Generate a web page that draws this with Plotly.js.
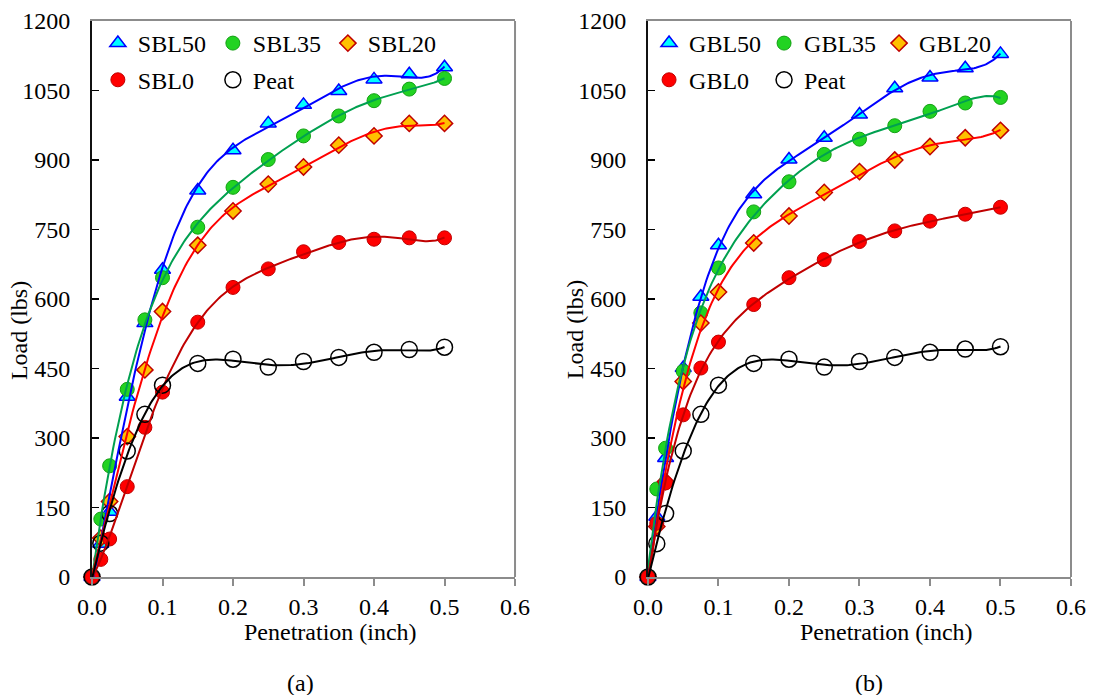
<!DOCTYPE html>
<html><head><meta charset="utf-8">
<script src="https://cdn.plot.ly/plotly-3.0.1.min.js"></script>
<style>html,body{margin:0;padding:0;background:#fff}#chart{width:1094px;height:695px}</style>
</head><body><div id="chart"></div>
<script>
// ---- data ----
const penetration = [0, 0.0125, 0.025, 0.05, 0.075, 0.1, 0.15, 0.2, 0.25, 0.3, 0.35, 0.4, 0.45, 0.5];
const xTickVals = [0, 0.1, 0.2, 0.3, 0.4, 0.5, 0.6];
const yTickVals = [0, 150, 300, 450, 600, 750, 900, 1050, 1200];
const xTitle = 'Penetration (inch)';
const yTitle = 'Load (lbs)';
const panelLabels = ['(a)', '(b)'];

// panel (a)
const namesA = ["SBL50", "SBL35", "SBL20", "SBL0", "Peat"];
const sbl50 = [0, 72, 141, 389, 548, 663, 834, 921, 979, 1019, 1049, 1074, 1085, 1100];
const sbl35 = [0, 125, 240, 405, 555, 646, 755, 841, 901, 952, 995, 1028, 1053, 1076];
const sbl20 = [0, 84, 163, 303, 447, 573, 716, 790, 848, 885, 932, 952, 979, 979];
const sbl0  = [0, 38, 82, 195, 323, 399, 550, 625, 665, 702, 722, 729, 732, 732];
const peatA = [0, 73, 137, 272, 351, 414, 461, 470, 453, 465, 474, 485, 491, 496];

// panel (b)
const namesB = ["GBL50", "GBL35", "GBL20", "GBL0", "Peat"];
const gbl50 = [0, 130, 257, 451, 605, 716, 826, 901, 948, 998, 1055, 1078, 1098, 1129];
const gbl35 = [0, 190, 278, 444, 570, 667, 788, 853, 912, 945, 974, 1005, 1023, 1035];
const gbl20 = [0, 109, 206, 422, 548, 615, 721, 779, 830, 875, 900, 929, 948, 964];
const gbl0  = [0, 116, 203, 350, 451, 507, 588, 646, 685, 724, 747, 768, 783, 798];
const peatB = [0, 72, 137, 272, 351, 414, 461, 470, 453, 465, 474, 485, 492, 497];

// ---- styles ----
const FONT = 'Liberation Serif, Times New Roman, serif';
const FS = 24;
const markerStyles = [
  {symbol: 'triangle-up', size: 14, color: '#00FFFF', line: {color: '#0000FF', width: 1.5}},
  {symbol: 'circle', size: 14, color: '#22D322', line: {color: '#14A014', width: 1}},
  {symbol: 'diamond', size: 12.5, color: '#FFC000', line: {color: '#C00000', width: 1.5}},
  {symbol: 'circle', size: 14, color: '#FF0000', line: {color: '#C00000', width: 1}},
  {symbol: 'circle', size: 16, color: 'rgba(0,0,0,0)', line: {color: '#000000', width: 1.5}}
];
const lineColors = ['#0000FF', '#00A050', '#FF0000', '#C00000', '#000000'];

// order-6 polynomial trendline (least squares) computed from the data arrays
function polyfit(xs, ys, deg) {
  const s = 0.5, n = deg + 1;
  const A = Array.from({length: n}, () => new Array(n).fill(0));
  const b = new Array(n).fill(0);
  for (let k = 0; k < xs.length; k++) {
    const t = xs[k] / s;
    const pw = [];
    let p = 1;
    for (let i = 0; i < 2 * n; i++) { pw.push(p); p *= t; }
    for (let i = 0; i < n; i++) {
      b[i] += ys[k] * pw[i];
      for (let j = 0; j < n; j++) A[i][j] += pw[i + j];
    }
  }
  for (let c = 0; c < n; c++) {
    let piv = c;
    for (let r = c + 1; r < n; r++) if (Math.abs(A[r][c]) > Math.abs(A[piv][c])) piv = r;
    [A[c], A[piv]] = [A[piv], A[c]];
    [b[c], b[piv]] = [b[piv], b[c]];
    for (let r = c + 1; r < n; r++) {
      const f = A[r][c] / A[c][c];
      for (let j = c; j < n; j++) A[r][j] -= f * A[c][j];
      b[r] -= f * b[c];
    }
  }
  const coef = new Array(n).fill(0);
  for (let r = n - 1; r >= 0; r--) {
    let sum = b[r];
    for (let j = r + 1; j < n; j++) sum -= A[r][j] * coef[j];
    coef[r] = sum / A[r][r];
  }
  return x => { const t = x / s; let v = 0, p = 1; for (let i = 0; i < n; i++) { v += coef[i] * p; p *= t; } return v; };
}

function panelTraces(names, series, xa, ya, legRow1, legRow2) {
  const markers = [], lines = [];
  const xmax = Math.max(...penetration);
  series.forEach((ys, i) => {
    markers.push({
      type: 'scatter', mode: 'markers', name: names[i], x: penetration, y: ys,
      xaxis: xa, yaxis: ya, marker: markerStyles[i], cliponaxis: false,
      legend: i < 3 ? legRow1 : legRow2, hoverinfo: 'skip'
    });
    const f = polyfit(penetration, ys, 6);
    const fx = [], fy = [];
    for (let k = 0; k <= 200; k++) { const x = xmax * k / 200; fx.push(x); fy.push(f(x)); }
    lines.push({
      type: 'scatter', mode: 'lines', x: fx, y: fy, xaxis: xa, yaxis: ya,
      line: {color: lineColors[i], width: 2}, showlegend: false, hoverinfo: 'skip', cliponaxis: true
    });
  });
  return markers.concat(lines);
}

const data = []
  .concat(panelTraces(namesA, [sbl50, sbl35, sbl20, sbl0, peatA], 'x', 'y', 'legend', 'legend2'))
  .concat(panelTraces(namesB, [gbl50, gbl35, gbl20, gbl0, peatB], 'x2', 'y2', 'legend3', 'legend4'));

const tf = {family: FONT, size: FS, color: '#000'};

function xAxis(domain, anchor) {
  return {
    domain: domain, anchor: anchor, range: [0, 0.6], tickvals: xTickVals, tickformat: '.1f',
    ticks: 'outside', ticklen: 7, tickwidth: 2, tickcolor: '#8c8c8c',
    showline: true, linecolor: '#8c8c8c', linewidth: 2, mirror: true,
    showgrid: false, zeroline: false, tickfont: tf
  };
}
function yAxis(anchor) {
  return {
    domain: [0, 1], anchor: anchor, range: [0, 1200], tickvals: yTickVals,
    ticks: 'inside', ticklen: 7, tickwidth: 1.5, tickcolor: '#000',
    showline: true, linecolor: '#111', linewidth: 2, mirror: false,
    showgrid: false, zeroline: false, ticklabelstandoff: 15, tickfont: tf
  };
}
function legendBox(x, y) {
  return {
    x: x, y: y, xanchor: 'left', yanchor: 'top', orientation: 'h', entrywidth: 70,
    bgcolor: 'rgba(0,0,0,0)', borderwidth: 0, traceorder: 'normal', font: tf
  };
}
function note(text, x, y, angle) {
  return {text: text, xref: 'paper', yref: 'paper', x: x, y: y, xanchor: 'center', yanchor: 'middle',
          showarrow: false, textangle: angle || 0, font: tf};
}

const layout = {
  width: 1094, height: 695,
  font: tf,
  margin: {l: 92, r: 23, t: 21, b: 118},
  paper_bgcolor: '#ffffff', plot_bgcolor: '#ffffff',
  showlegend: true, hovermode: false,
  xaxis: xAxis([0, 0.4321], 'y'),
  yaxis: yAxis('x'),
  xaxis2: xAxis([0.5679, 1], 'y2'),
  yaxis2: yAxis('x2'),
  legend: legendBox(0.006, 1.0),
  legend2: legendBox(0.006, 0.934),
  legend3: legendBox(0.569, 1.0),
  legend4: legendBox(0.569, 0.934),
  shapes: [
    {type: 'line', xref: 'x domain', yref: 'y domain', x0: 1, x1: 1, y0: 0, y1: 1, line: {color: '#8c8c8c', width: 2}},
    {type: 'line', xref: 'x2 domain', yref: 'y2 domain', x0: 1, x1: 1, y0: 0, y1: 1, line: {color: '#8c8c8c', width: 2}}
  ],
  annotations: [
    note(xTitle, 0.2441, -0.0989),
    note(xTitle, 0.8115, -0.0989),
    note(yTitle, -0.0746, 0.444, -90),
    note(yTitle, 0.4934, 0.444, -90),
    note(panelLabels[0], 0.2132, -0.1906),
    note(panelLabels[1], 0.7937, -0.1906)
  ]
};

Plotly.newPlot('chart', data, layout, {displayModeBar: false, staticPlot: true});
</script>
</body></html>
